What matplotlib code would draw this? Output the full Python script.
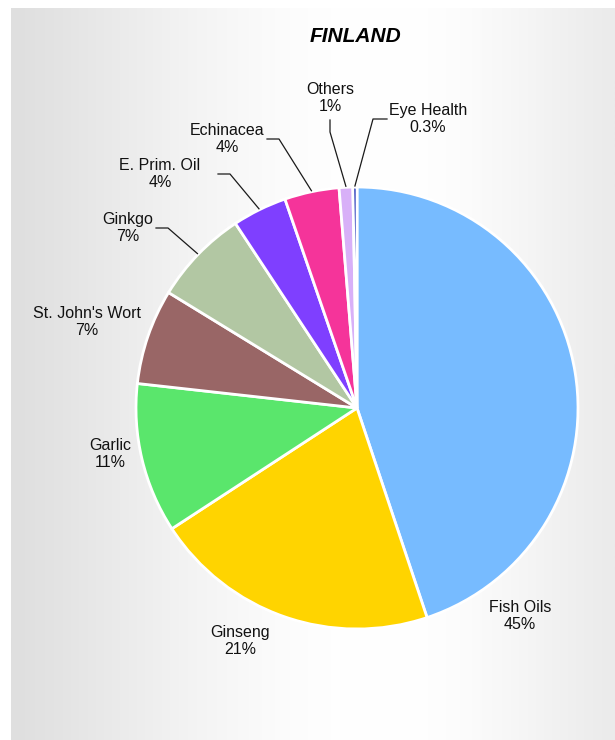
import numpy as np
import matplotlib
matplotlib.use("Agg")
import matplotlib.pyplot as plt

# Supplement market shares, Finland
categories = ["Fish Oils", "Ginseng", "Garlic", "St. John's Wort", "Ginkgo",
              "E. Prim. Oil", "Echinacea", "Others", "Eye Health"]
shares = [45, 21, 11, 7, 7, 4, 4, 1, 0.3]
share_labels = ["45%", "21%", "11%", "7%", "7%", "4%", "4%", "1%", "0.3%"]
colors = ["#77BBFF", "#FFD400", "#5AE66C", "#996666", "#B2C7A3",
          "#7F3FFF", "#F5349A", "#D8B0F8", "#1428B4"]

W, H = 615, 740
fig = plt.figure(figsize=(W / 100, H / 100), dpi=100)
ax = fig.add_axes([0, 0, 1, 1])
ax.set_xlim(0, W)
ax.set_ylim(0, H)
ax.set_aspect("equal")
ax.axis("off")

plt.rcParams["font.family"] = ["Liberation Sans", "DejaVu Sans"]


def py(y):
    """Convert a top-down pixel row to axes y."""
    return H - y


# Panel with a soft horizontal gradient
xs = np.linspace(0, 1, 600)
left_v, peak_v, right_v, peak_x = 223, 255, 235, 0.62
vals = np.where(xs < peak_x,
                left_v + (peak_v - left_v) * np.sin(xs / peak_x * np.pi / 2) ** 1.2,
                right_v + (peak_v - right_v) * np.cos((xs - peak_x) / (1 - peak_x) * np.pi / 2) ** 1.2)
grad = np.repeat((vals / 255.0)[None, :, None], 3, axis=2)
ax.imshow(grad, extent=[11, W, py(H), py(8)], aspect="auto", zorder=0,
          interpolation="bilinear")

# Pie
cx, cy, R = 357, py(408), 221
wedges, _ = ax.pie(shares, colors=colors, startangle=90, counterclock=False,
                   center=(cx, cy), radius=R, frame=True,
                   wedgeprops=dict(edgecolor="white", linewidth=2))
ax.set_xlim(0, W)
ax.set_ylim(0, H)
ax.axis("off")

ax.text(355, py(37), "FINLAND", ha="center", va="center", fontsize=15,
        fontweight="bold", fontstyle="italic", color="#000000")

# Label positions (pixel rows top-down) and optional leader elbows
label_pos = {
    "Fish Oils": (520, 616),
    "Ginseng": (240, 641),
    "Garlic": (110, 454),
    "St. John's Wort": (87, 322),
    "Ginkgo": (128, 228),
    "E. Prim. Oil": (160, 174),
    "Echinacea": (227, 139),
    "Others": (330, 98),
    "Eye Health": (428, 119),
}
leaders = {
    "Ginkgo": ((168, 228), (156, 228)),
    "E. Prim. Oil": ((230, 174), (218, 174)),
    "Echinacea": ((279, 139), (267, 139)),
    "Others": ((330, 132), (330, 120)),
    "Eye Health": ((373, 119), (387, 119)),
}

for w, name, lab in zip(wedges, categories, share_labels):
    lx, ly = label_pos[name]
    ax.text(lx, py(ly), f"{name}\n{lab}", ha="center", va="center",
            fontsize=11.5, color="#111111", linespacing=1.15, zorder=5)
    if name in leaders:
        mid = np.deg2rad((w.theta1 + w.theta2) / 2)
        ax_, ay_ = cx + (R + 1) * np.cos(mid), cy + (R + 1) * np.sin(mid)
        (ex, ey), (tx, ty) = leaders[name]
        ax.plot([ax_, ex, tx], [ay_, py(ey), py(ty)], color="#1a1a1a",
                linewidth=0.9, zorder=4)

fig.savefig("out.png", dpi=100)
